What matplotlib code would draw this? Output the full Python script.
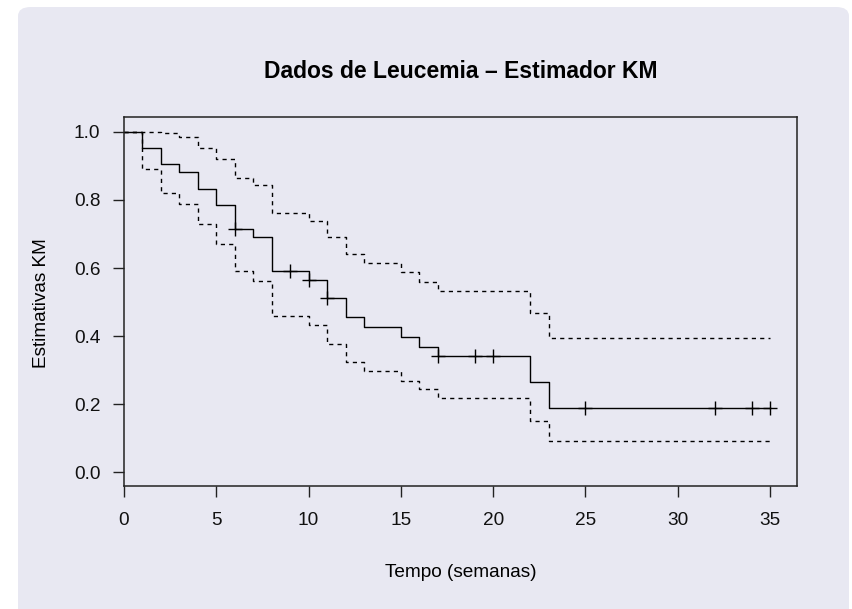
import numpy as np
import matplotlib
matplotlib.use("Agg")
import matplotlib.pyplot as plt
from matplotlib.patches import FancyBboxPatch

# Kaplan-Meier estimate (leukemia data, both groups pooled)
event_times = [0, 1, 2, 3, 4, 5, 6, 7, 8, 10, 11, 12, 13, 15, 16, 17, 22, 23]
surv = [1.0, 0.952, 0.905, 0.881, 0.833, 0.786, 0.714, 0.690, 0.591,
        0.565, 0.512, 0.455, 0.426, 0.398, 0.369, 0.341, 0.265, 0.189]
upper = [1.0, 1.0, 0.998, 0.985, 0.954, 0.920, 0.865, 0.845, 0.762,
         0.739, 0.692, 0.641, 0.615, 0.588, 0.560, 0.532, 0.467, 0.395]
lower = [1.0, 0.890, 0.820, 0.788, 0.728, 0.671, 0.590, 0.563, 0.459,
         0.433, 0.378, 0.323, 0.296, 0.269, 0.244, 0.219, 0.151, 0.091]
t_end = 35
censor_times = [6, 9, 10, 11, 17, 19, 20, 25, 32, 34, 35]

x_ticks = [0, 5, 10, 15, 20, 25, 30, 35]
y_ticks = [0.0, 0.2, 0.4, 0.6, 0.8, 1.0]

plt.rcParams["font.family"] = ["Liberation Sans", "DejaVu Sans"]
panel_col = "#E8E8F2"
base_fs = 13.7

fig = plt.figure(figsize=(8.52, 6.09), dpi=100)
fig.patch.set_facecolor("white")
W, H = 852, 609
bg = FancyBboxPatch((18 / W, -0.05), (849 - 18) / W, 1.05 - 7 / H,
                    boxstyle="round,pad=0,rounding_size=0.015",
                    transform=fig.transFigure, facecolor=panel_col,
                    edgecolor="none", zorder=-5)
fig.patches.append(bg)

ax = fig.add_axes([124 / W, 1 - 486 / H, (797 - 124) / W, (486 - 117) / H])
ax.set_facecolor("none")

t = event_times + [t_end]
lw = 1.0
ax.step(t, surv + [surv[-1]], where="post", color="black", lw=lw)
ax.step(t, upper + [upper[-1]], where="post", color="black", lw=lw,
        dashes=(3, 3))
ax.step(t, lower + [lower[-1]], where="post", color="black", lw=lw,
        dashes=(3, 3))

# censoring marks on the KM curve
idx = np.searchsorted(event_times, censor_times, side="right") - 1
ax.plot(censor_times, np.array(surv)[idx], linestyle="none", marker="+",
        markersize=10, mew=1.0, color="black")

ax.set_xlim(0, 36.46)
ax.set_ylim(-0.041, 1.044)
ax.set_xticks(x_ticks)
ax.set_yticks(y_ticks)
ax.set_yticklabels([f"{v:.1f}" for v in y_ticks])
ax.tick_params(axis="both", direction="out", length=8, width=1.0,
               labelsize=base_fs, color="#222222", labelcolor="#111111")
ax.tick_params(axis="x", pad=11)
ax.tick_params(axis="y", pad=9)
for s in ax.spines.values():
    s.set_linewidth(1.1)
    s.set_color("#222222")

fig.text((124 + 797) / 2 / W, 1 - 78 / H, "Dados de Leucemia \u2013 Estimador KM",
         ha="center", va="baseline", fontsize=base_fs * 1.2, fontweight="bold")
fig.text((124 + 797) / 2 / W, 1 - 577 / H, "Tempo (semanas)",
         ha="center", va="baseline", fontsize=base_fs)
fig.text(50 / W, 1 - 303 / H, "Estimativas KM", rotation=90,
         ha="right", va="center", fontsize=base_fs)

fig.savefig("out.png", dpi=100, facecolor="white")
